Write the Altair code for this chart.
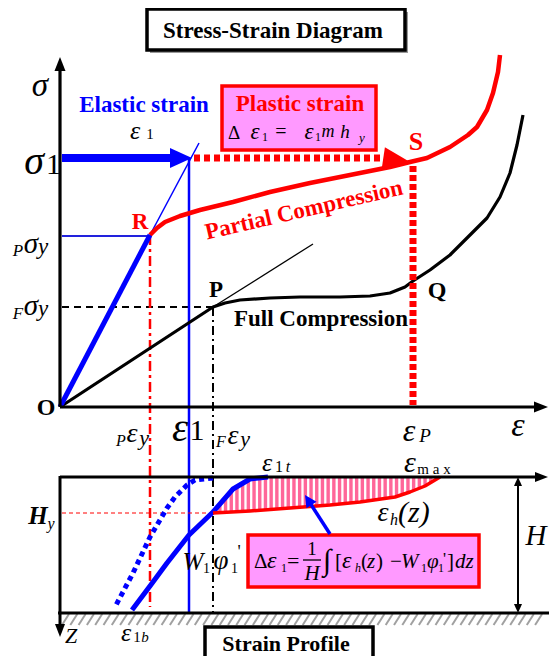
import math
import altair as alt
import pandas as pd

# ---------------- data (reference picture coordinates, px) ----------------
# stress-strain curves
full_x = [60, 213, 225, 240, 270, 300, 340, 370, 390, 405, 413, 430, 450, 470, 487, 500, 510, 517, 523]
full_y = [407, 307, 303, 300, 298, 297, 297, 296, 293, 287, 281, 270, 255, 235, 218, 197, 173, 145, 115]
partial_x = [150, 157, 165, 180, 200, 233, 270, 310, 350, 390, 410, 427, 450, 468, 477, 487, 493, 498, 500]
partial_y = [235, 228, 222, 216, 210, 202, 192, 183, 175, 167, 162, 158, 147, 135, 127, 110, 93, 72, 55]
elastic_x = [60, 150]
elastic_y = [407, 235]
elastic_ext_x = [150, 199]
elastic_ext_y = [235, 143]
tangent_x = [213, 313]
tangent_y = [307, 244]

# strain profile curves
blue_solid_x = [268, 250, 233, 213, 189, 167, 150, 132]
blue_solid_y = [477, 479, 489, 512, 535, 563, 586, 610]
blue_dot_x = [213, 195, 187, 175, 167, 150, 133, 115]
blue_dot_y = [478, 480, 485, 497, 508, 537, 573, 607]
eps_h_x = [213, 250, 290, 330, 360, 395, 410, 425, 435, 440]
eps_h_y = [513, 511, 508, 505, 502, 497, 492, 486, 480, 477]
hatch_x = [213, 222, 233, 250, 268, 290, 330, 360, 395, 410, 425, 435, 440]
hatch_top = [512, 500, 489, 479, 477, 477, 477, 477, 477, 477, 477, 477, 477]
hatch_bot = [513, 512.5, 512, 511, 509.5, 508, 505, 502, 497, 492, 486, 480, 477]

SERIF = "Liberation Serif"
BLUE = "#0000FF"
RED = "#FF0000"
PINK_BOX = "#FF99FF"
PINK_HATCH = "#FF6699"

XS = alt.Scale(domain=[8, 549])
YS = alt.Scale(domain=[8, 656], reverse=True)


def enc_xy(**extra):
    return dict(x=alt.X("x:Q", scale=XS, axis=None),
                y=alt.Y("y:Q", scale=YS, axis=None), **extra)


def line(xs, ys, color, width, dash=None, cap="butt"):
    df = pd.DataFrame({"x": xs, "y": ys, "o": list(range(len(xs)))})
    kw = dict(color=color, strokeWidth=width, strokeCap=cap, strokeJoin="round")
    if dash:
        kw["strokeDash"] = dash
    return alt.Chart(df).mark_line(**kw).encode(**enc_xy(order="o:Q"))


def seg(x1, y1, x2, y2, color, width, dash=None, cap="butt"):
    df = pd.DataFrame({"x": [x1], "y": [y1], "x2": [x2], "y2": [y2]})
    kw = dict(color=color, strokeWidth=width, strokeCap=cap)
    if dash:
        kw["strokeDash"] = dash
    return alt.Chart(df).mark_rule(**kw).encode(**enc_xy(x2="x2:Q", y2="y2:Q"))


def box(x1, y1, x2, y2, fill, stroke=None, width=0):
    df = pd.DataFrame({"x": [x1], "y": [y1], "x2": [x2], "y2": [y2]})
    kw = dict(fill=fill)
    if stroke:
        kw["stroke"] = stroke
        kw["strokeWidth"] = width
    else:
        kw["strokeWidth"] = 0
    return alt.Chart(df).mark_rect(**kw).encode(**enc_xy(x2="x2:Q", y2="y2:Q"))


def head(tx, ty, dx, dy, L, W, color):
    n = math.hypot(dx, dy)
    ux, uy = dx / n, dy / n
    cx, cy = tx - ux * L / 2, ty - uy * L / 2
    ang = math.degrees(math.atan2(uy, ux)) % 360
    r = W / (L / 2)
    shape = f"M1,0L-1,{-r:.3f}L-1,{r:.3f}Z"
    df = pd.DataFrame({"x": [cx], "y": [cy]})
    return alt.Chart(df).mark_point(shape=shape, size=L * L, angle=ang, filled=True,
                                    color=color, opacity=1, strokeWidth=0).encode(**enc_xy())


def T(x, y, s, size=18, color="black", bold=False, italic=False, align="center", angle=0):
    df = pd.DataFrame({"x": [x], "y": [y], "t": [s]})
    kw = dict(font=SERIF, fontSize=size, color=color, align=align, baseline="middle",
              fontWeight="bold" if bold else "normal",
              fontStyle="italic" if italic else "normal")
    if angle:
        kw["angle"] = angle
    return alt.Chart(df).mark_text(**kw).encode(**enc_xy(text="t:N"))


layers = []
L = layers.append

# ---------------- title ----------------
L(box(150, 12, 408, 53, "#999999"))
L(box(147, 9, 405, 50, "white", "black", 3.5))
L(T(273, 31, "Stress-Strain Diagram", 23, bold=True))

# ---------------- stress-strain diagram ----------------
# guide lines
L(seg(62, 307, 213, 307, "black", 1.8, dash=[7, 5]))
L(seg(213, 307, 213, 612, "black", 2, dash=[9, 4, 2, 4]))
L(seg(150, 235, 150, 607, RED, 2.5, dash=[10, 4, 3, 4]))
L(seg(62, 236, 150, 236, "#2222DD", 2))
L(seg(189, 158, 189, 613, BLUE, 2.5))
L(line(elastic_ext_x, elastic_ext_y, BLUE, 1.5))
L(line(tangent_x, tangent_y, "black", 1.3))

# curves
L(line(full_x, full_y, "black", 3.2))
L(line(partial_x, partial_y, RED, 4.5))
L(line(elastic_x, elastic_y, BLUE, 5))

# red plastic strain dotted lines
L(seg(413, 166, 413, 405, RED, 7, dash=[6, 3]))
L(seg(194, 158, 381, 158, RED, 7, dash=[6, 4]))
L(head(410, 162, 27, 4, 27, 11, RED))

# blue elastic arrow
L(seg(62, 158, 174, 158, BLUE, 8))
L(head(192, 158, 1, 0, 22, 10, BLUE))

# axes
L(seg(60, 407, 60, 66, "black", 3.2))
L(head(60, 57, 0, -1, 14, 5.5, "black"))
L(seg(60, 407, 538, 407, "black", 3.2))
L(head(548, 407, 1, 0, 14, 5.5, "black"))

# plastic strain box
L(box(222, 86, 376, 150, PINK_BOX, RED, 3.5))
L(T(300, 104, "Plastic strain", 23, RED, bold=True))
L(T(234, 133, "Δ", 19))
L(T(255, 132, "ε", 23, italic=True))
L(T(262, 137, "1", 12, align="left"))
L(T(281, 132, "=", 20))
L(T(309, 132, "ε", 23, italic=True))
L(T(315, 137, "1", 12, align="left"))
L(T(328, 132, "m", 18, italic=True))
L(T(345, 132, "h", 19, italic=True))
L(T(362, 138, "y", 13, italic=True))

# labels
L(T(40, 86, "σ", 33, italic=True))
L(T(34, 162, "σ", 40, italic=True))
L(T(46, 165, "1", 30, align="left"))
L(T(18, 251, "P", 17, italic=True))
L(T(31, 244, "σ", 29, italic=True))
L(T(43, 247, "y", 23, italic=True))
L(T(18, 314, "F", 17, italic=True))
L(T(31, 306, "σ", 29, italic=True))
L(T(43, 309, "y", 23, italic=True))
L(T(46, 408, "O", 24, bold=True))
L(T(144, 105, "Elastic strain", 23, BLUE, bold=True))
L(T(135, 131, "ε", 26, italic=True))
L(T(150, 134, "1", 15))
L(T(140, 222, "R", 23, RED, bold=True))
L(T(416, 142, "S", 26, RED, bold=True))
L(T(216, 290, "P", 23, bold=True))
L(T(437, 291, "Q", 24, bold=True))
L(T(304, 210, "Partial Compression", 23, RED, bold=True, angle=347))
L(T(321, 319, "Full Compression", 23, bold=True))

# x-axis labels
L(T(121, 441, "P", 16, italic=True))
L(T(132, 434, "ε", 28, italic=True))
L(T(144, 438, "y", 22, italic=True))
L(T(180, 429, "ε", 41, italic=True))
L(T(197, 431, "1", 30))
L(T(221, 442, "F", 16, italic=True))
L(T(233, 436, "ε", 28, italic=True))
L(T(245, 439, "y", 22, italic=True))
L(T(409, 431, "ε", 32, italic=True))
L(T(425, 436, "P", 19, italic=True))
L(T(518, 426, "ε", 34, italic=True))

# ---------------- strain profile ----------------
# hatched region
hdf = pd.DataFrame({"x": hatch_x, "y": hatch_top, "y2": hatch_bot})
L(alt.Chart(hdf).mark_area(color=PINK_HATCH, orient="vertical", opacity=1)
  .encode(**enc_xy(y2="y2:Q")))
stripes = pd.DataFrame({"x": [217 + 5.7 * i for i in range(39)]})
L(alt.Chart(stripes).mark_rule(color="white", strokeWidth=2.3)
  .encode(x=alt.X("x:Q", scale=XS, axis=None), y=alt.value(468), y2=alt.value(507)))

# ground hatch
gdf = pd.DataFrame({"x": [62 + 8.3 * i for i in range(58)]})
gdf["x2"] = gdf["x"] + 7
L(alt.Chart(gdf).mark_rule(color="#A0A0A0", strokeWidth=2)
  .encode(x=alt.X("x:Q", scale=XS, axis=None), x2="x2:Q",
          y=alt.value(617), y2=alt.value(606)))

L(seg(62, 513, 213, 513, RED, 1, dash=[4, 3]))
L(line(blue_dot_x, blue_dot_y, BLUE, 5, dash=[5, 4]))
L(line(blue_solid_x, blue_solid_y, BLUE, 5))
L(line(eps_h_x, eps_h_y, RED, 3.5))

# frame lines
L(seg(60, 477, 540, 477, "black", 3))
L(head(548, 477, 1, 0, 13, 5, "black"))
L(seg(58, 613, 549, 613, "black", 3))
L(seg(60, 476, 60, 626, "black", 3))
L(head(60, 637, 0, 1, 13, 5, "black"))
L(seg(518, 485, 518, 605, "black", 2))
L(head(518, 477, 0, -1, 9, 4, "black"))
L(head(518, 613, 0, 1, 9, 4, "black"))

# formula box and arrow
L(box(248, 535, 479, 587, PINK_BOX, RED, 3.5))
L(seg(330, 534, 310, 503, BLUE, 3.5))
L(head(305, 495, -25, -39, 12, 6, BLUE))
L(T(254, 562, "Δ", 21, align="left"))
L(T(267, 561, "ε", 24, italic=True, align="left"))
L(T(281, 568, "1", 12, align="left"))
L(T(287, 561, "=", 22, align="left"))
L(T(312, 549, "1", 19))
L(seg(303, 560, 321, 560, "black", 1.3))
L(T(312, 574, "H", 21, italic=True))
L(T(323, 561, "∫", 30, align="left"))
L(T(335, 562, "[", 21, align="left"))
L(T(342, 561, "ε", 24, italic=True, align="left"))
L(T(355, 568, "h", 12, italic=True, align="left"))
L(T(361, 562, "(", 21, align="left"))
L(T(367, 562, "z", 21, italic=True, align="left"))
L(T(376, 562, ")", 21, align="left"))
L(T(390, 562, "−", 21, align="left"))
L(T(401, 562, "W", 21, italic=True, align="left"))
L(T(421, 568, "1", 12, align="left"))
L(T(427, 562, "φ", 21, italic=True, align="left"))
L(T(438, 568, "1", 12, align="left"))
L(T(443, 559, "'", 17, align="left"))
L(T(447, 562, "]", 21, align="left"))
L(T(455, 562, "dz", 21, italic=True, align="left"))

# profile labels
L(T(267, 463, "ε", 26, italic=True))
L(T(279, 467, "1", 16))
L(T(288, 467, "t", 16, italic=True))
L(T(410, 463, "ε", 30, italic=True))
L(T(434, 469, "m a x", 15))
L(T(383, 513, "ε", 28, italic=True))
L(T(394, 520, "h", 16, italic=True))
L(T(398, 513, "(z)", 30, italic=True, align="left"))
L(T(536, 536, "H", 29, italic=True))
L(T(38, 516, "H", 25, bold=True, italic=True))
L(T(51, 524, "y", 16, italic=True))
L(T(193, 562, "W", 25, italic=True))
L(T(203, 569, "1", 14, align="left"))
L(T(221, 561, "φ", 27, italic=True))
L(T(231, 569, "1", 14, align="left"))
L(T(239, 553, "'", 18))
L(T(71, 636, "Z", 22, italic=True))
L(T(126, 633, "ε", 26, italic=True))
L(T(137, 637, "1", 15))
L(T(145, 637, "b", 15, italic=True))

# strain profile title box
L(box(205, 627, 373, 672, "white", "black", 3.5))
L(T(286, 644, "Strain Profile", 22, bold=True))

chart = alt.layer(*layers).properties(
    width=541, height=648, padding=0,
    autosize=alt.AutoSizeParams(type="none"), background="white"
).configure_view(stroke=None)

chart.save("out.html", embed_options={"renderer": "svg", "actions": False})
